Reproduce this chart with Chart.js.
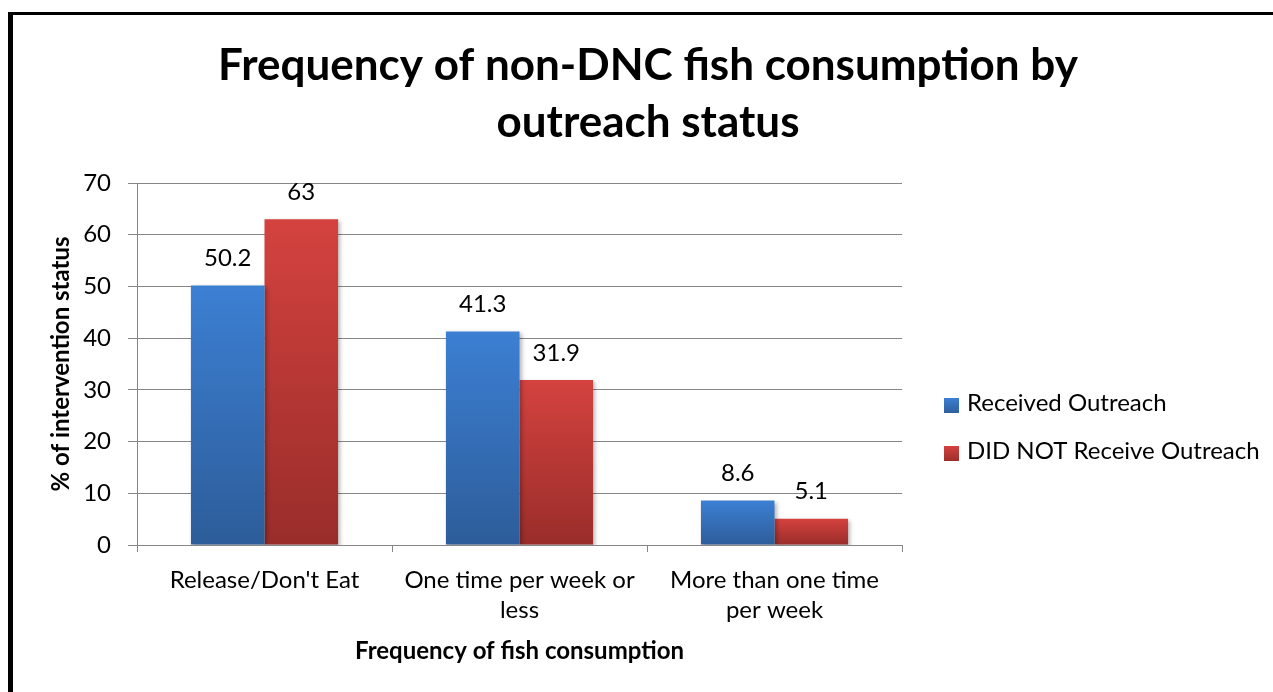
<!DOCTYPE html>
<html>
<head>
<meta charset="utf-8">
<script src="https://cdn.jsdelivr.net/npm/chart.js@4/dist/chart.umd.min.js"></script>
<style>
  html, body { margin: 0; padding: 0; background: #ffffff; }
  canvas { display: block; }
</style>
</head>
<body>
<canvas id="chart" width="1273" height="692"></canvas>
<script>
// Chart content
const categories = [["Release/Don't Eat"], ["One time per week or", "less"], ["More than one time", "per week"]];
const seriesNames = ["Received Outreach", "DID NOT Receive Outreach"];
const receivedOutreach = [50.2, 41.3, 8.6];
const notReceivedOutreach = [63, 31.9, 5.1];
const titleLines = ["Frequency of non-DNC fish consumption by", "outreach status"];
const yAxisTitle = "% of intervention status";
const xAxisTitle = "Frequency of fish consumption";
const yMin = 0, yMax = 70, yStep = 10;

const FONT = "Lato, 'Open Sans', sans-serif";
const GRID = "#868686";

// Each bar gets its own top-to-bottom shading
function shaded(topColor, bottomColor) {
  return (c) => {
    const chart = c.chart;
    const ys = chart.scales && chart.scales.y;
    if (c.type !== 'data' || !ys || !isFinite(ys.top)) return topColor;
    const y0 = ys.getPixelForValue(c.raw);
    const y1 = ys.getPixelForValue(0);
    if (!isFinite(y0) || !isFinite(y1) || y0 === y1) return topColor;
    const g = chart.ctx.createLinearGradient(0, y0, 0, y1);
    g.addColorStop(0, topColor);
    g.addColorStop(1, bottomColor);
    return g;
  };
}

const series = [
  { label: seriesNames[0], data: receivedOutreach, top: '#3c7fd3', bottom: '#2d5d9a' },
  { label: seriesNames[1], data: notReceivedOutreach, top: '#d4423f', bottom: '#992d2a' }
];

// Frame lines along the top and left edges
const framePlugin = {
  id: 'frame',
  afterDraw(chart) {
    const ctx = chart.ctx;
    ctx.save();
    ctx.fillStyle = '#000000';
    ctx.fillRect(8, 12, chart.width, 3);
    ctx.fillRect(8, 12, 5, chart.height);
    ctx.restore();
  }
};

// Two-line heading
const headingPlugin = {
  id: 'heading',
  afterDraw(chart) {
    const ctx = chart.ctx;
    ctx.save();
    ctx.fillStyle = '#000000';
    ctx.font = "bold 44px " + FONT;
    ctx.textAlign = 'center';
    ctx.textBaseline = 'middle';
    ctx.fillText(titleLines[0], 648, 66);
    ctx.fillText(titleLines[1], 648, 123);
    ctx.restore();
  }
};

// Series key on the right
const keyPlugin = {
  id: 'seriesKey',
  afterDraw(chart) {
    const ctx = chart.ctx;
    ctx.save();
    ctx.font = "24px " + FONT;
    ctx.textAlign = 'left';
    ctx.textBaseline = 'alphabetic';
    const rows = [411, 459];
    chart.data.datasets.forEach((ds, i) => {
      const s = series[i];
      const g = ctx.createLinearGradient(0, rows[i] - 13, 0, rows[i] + 3);
      g.addColorStop(0, s.top);
      g.addColorStop(1, s.bottom);
      ctx.fillStyle = g;
      ctx.fillRect(944, rows[i] - 13, 15, 15);
      ctx.fillStyle = '#000000';
      ctx.fillText(ds.label, 967, rows[i]);
    });
    ctx.restore();
  }
};

// Value written above each bar
const valuePlugin = {
  id: 'values',
  afterDatasetsDraw(chart) {
    const ctx = chart.ctx;
    ctx.save();
    ctx.font = "24px " + FONT;
    ctx.fillStyle = '#000000';
    ctx.textAlign = 'center';
    ctx.textBaseline = 'middle';
    chart.data.datasets.forEach((ds, di) => {
      const meta = chart.getDatasetMeta(di);
      meta.data.forEach((el, i) => {
        ctx.fillText(String(ds.data[i]), el.x, el.y - 27);
      });
    });
    ctx.restore();
  }
};

// Soft drop shadow under the bars
const shadowPlugin = {
  id: 'barShadow',
  beforeDatasetsDraw(chart) {
    const ctx = chart.ctx;
    ctx.save();
    ctx.shadowColor = 'rgba(0,0,0,0.28)';
    ctx.shadowBlur = 4;
    ctx.shadowOffsetX = 2;
    ctx.shadowOffsetY = 2;
  },
  afterDatasetsDraw(chart) {
    chart.ctx.restore();
  }
};

new Chart(document.getElementById('chart'), {
  type: 'bar',
  data: {
    labels: categories,
    datasets: series.map(s => ({
      label: s.label,
      data: s.data,
      backgroundColor: shaded(s.top, s.bottom),
      borderWidth: 0,
      categoryPercentage: 0.577,
      barPercentage: 1.0
    }))
  },
  options: {
    responsive: false,
    animation: false,
    devicePixelRatio: 1,
    layout: { padding: { left: 0, top: 183, right: 371, bottom: 0 } },
    plugins: {
      legend: { display: false },
      title: { display: false },
      tooltip: { enabled: false }
    },
    scales: {
      x: {
        offset: true,
        afterFit(scale) { scale.height = 147; },
        grid: {
          offset: true,
          drawOnChartArea: false,
          drawTicks: true,
          tickLength: 7,
          color: GRID,
          lineWidth: 1
        },
        border: { display: true, color: GRID, width: 1 },
        ticks: {
          color: '#000000',
          font: { family: FONT, size: 24, lineHeight: 1.25 },
          padding: 13,
          maxRotation: 0,
          autoSkip: false
        },
        title: {
          display: true,
          text: xAxisTitle,
          color: '#000000',
          font: { family: FONT, size: 24, weight: 'bold', lineHeight: 1.2 },
          padding: { top: 0, bottom: 26 }
        }
      },
      y: {
        min: yMin,
        max: yMax,
        afterFit(scale) { scale.width = 137; },
        grid: {
          drawTicks: true,
          tickLength: 9,
          color: GRID,
          lineWidth: 1
        },
        border: { display: true, color: GRID, width: 1 },
        ticks: {
          stepSize: yStep,
          color: '#000000',
          font: { family: FONT, size: 24 },
          padding: 17
        },
        title: {
          display: true,
          text: yAxisTitle,
          color: '#000000',
          font: { family: FONT, size: 24, weight: 'bold', lineHeight: 1.2 },
          padding: { top: 47, bottom: 0 }
        }
      }
    }
  },
  plugins: [shadowPlugin, valuePlugin, headingPlugin, keyPlugin, framePlugin]
});
</script>
</body>
</html>
